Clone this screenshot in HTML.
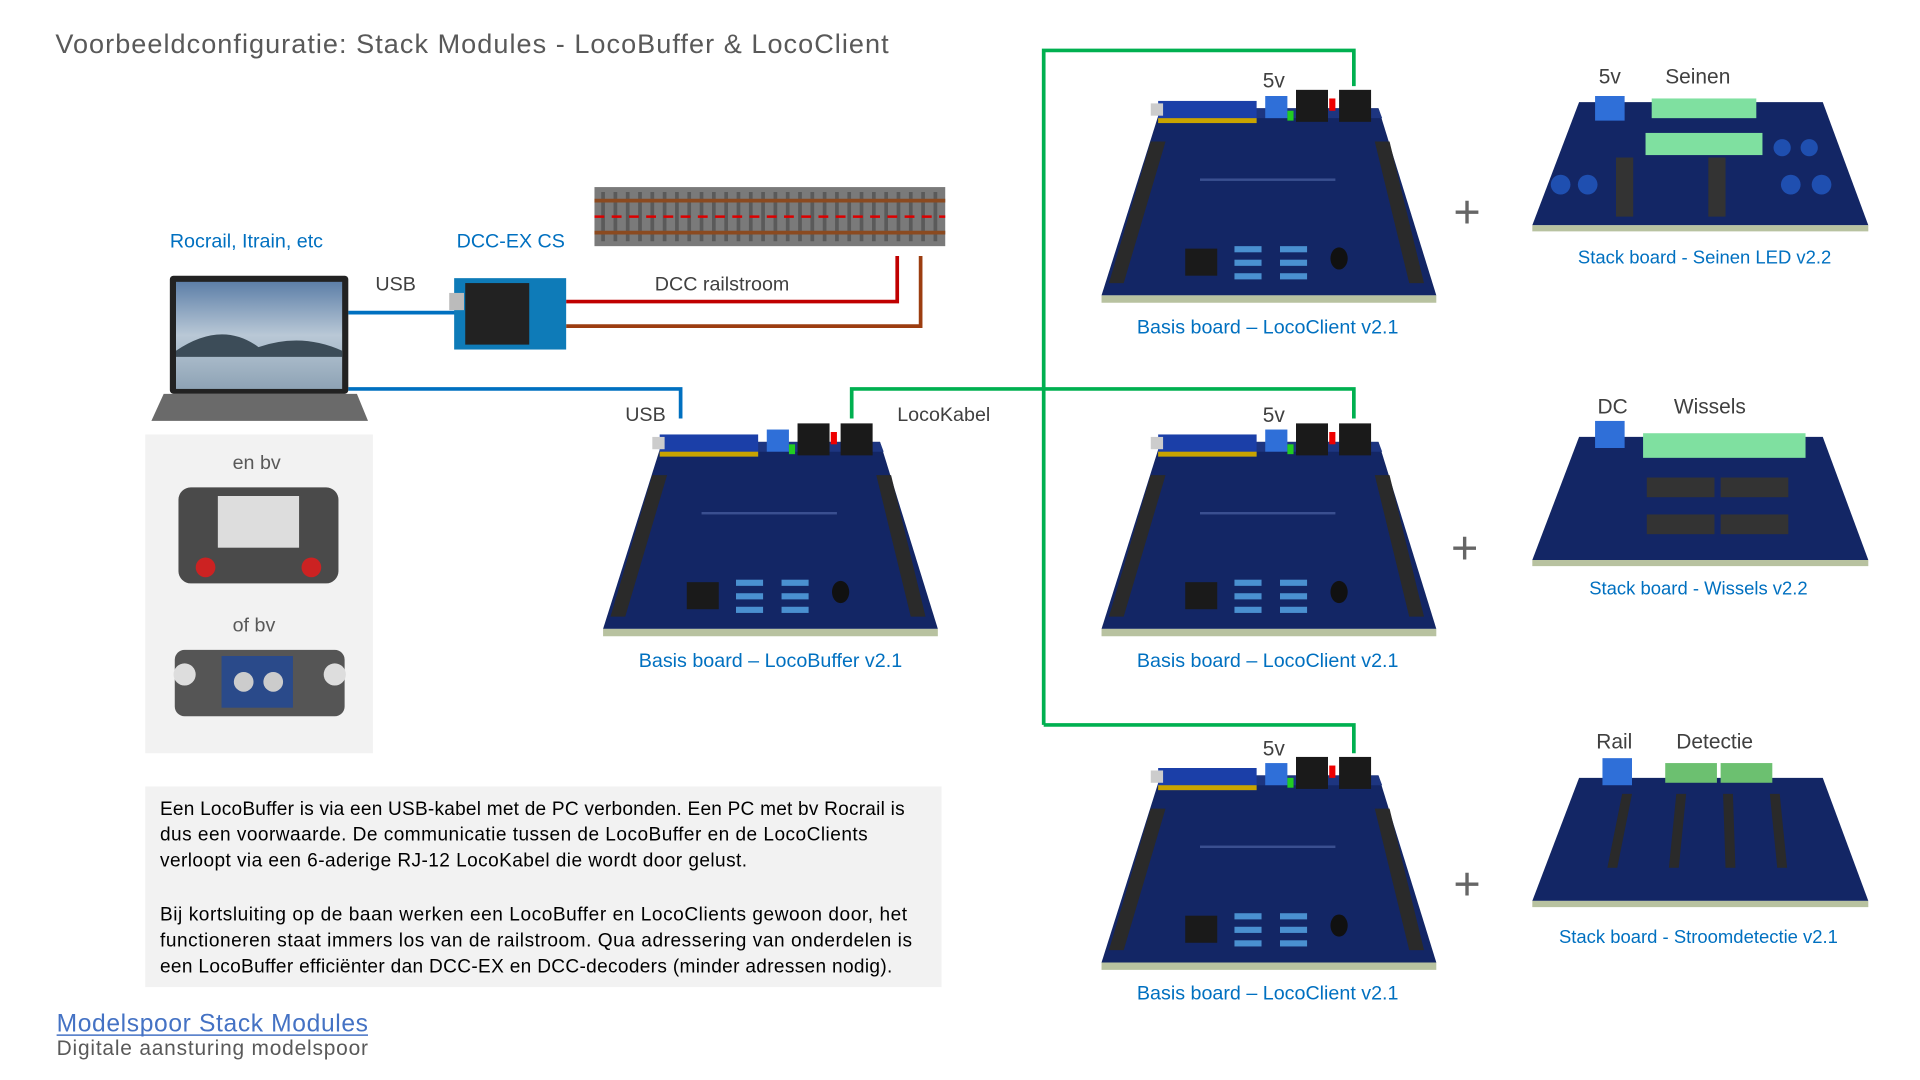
<!DOCTYPE html>
<html><head><meta charset="utf-8"><style>
html,body{margin:0;padding:0;background:#fff;width:1920px;height:1080px;overflow:hidden}
svg{display:block}
text{font-family:"Liberation Sans",sans-serif}
</style></head><body>
<svg width="1920" height="1080" viewBox="0 0 1560 877.5" xmlns="http://www.w3.org/2000/svg">
<defs>
<g id="pcb">
  <polygon points="48,18 225,18 272,170 0,170" fill="#132665"/>
  <polygon points="0,170 272,170 272,176 0,176" fill="#b8c2a0"/>
  <polygon points="48,18 225,18 228,26 46,26" fill="#1d3580"/>
  <polygon points="40,45 52,45 18,160 6,160" fill="#2a2a2a"/>
  <polygon points="222,45 234,45 262,160 250,160" fill="#2a2a2a"/>
  <rect x="46" y="12" width="80" height="18" fill="#1b3fa8"/>
  <rect x="46" y="26" width="80" height="4" fill="#c9a400"/>
  <rect x="40" y="14" width="10" height="10" fill="#ccc"/>
  <rect x="133" y="8" width="18" height="18" fill="#2f6fd8"/>
  <rect x="158" y="3" width="26" height="26" fill="#1a1a1a"/>
  <rect x="193" y="3" width="26" height="26" fill="#1a1a1a"/>
  <rect x="185" y="10" width="5" height="10" fill="#e00"/>
  <rect x="151" y="20" width="5" height="8" fill="#2c2"/>
  <rect x="68" y="132" width="26" height="22" fill="#1a1a1a"/>
  <g fill="#4a90d0">
    <rect x="108" y="130" width="22" height="5"/><rect x="108" y="141" width="22" height="5"/><rect x="108" y="152" width="22" height="5"/>
    <rect x="145" y="130" width="22" height="5"/><rect x="145" y="141" width="22" height="5"/><rect x="145" y="152" width="22" height="5"/>
  </g>
  <ellipse cx="193" cy="140" rx="7" ry="9" fill="#111"/>
  <rect x="80" y="75" width="110" height="2" fill="#3a4f90"/>
</g>
<g id="stk">
  <polygon points="38,10 236,10 273,110 0,110" fill="#132665"/>
  <polygon points="0,110 273,110 273,115 0,115" fill="#b8c2a0"/>
</g>
</defs>

<text x="45" y="43" font-size="22" fill="#595959" textLength="677">Voorbeeldconfiguratie: Stack Modules - LocoBuffer &amp; LocoClient</text>

<g stroke="#00b050" stroke-width="3" fill="none">
  <polyline points="692,340 692,316 1100,316 1100,340"/>
  <polyline points="848,589 848,41 1100,41 1100,70"/>
  <polyline points="848,589 1100,589 1100,612"/>
</g>
<g stroke="#0070c0" stroke-width="3" fill="none">
  <line x1="283" y1="254" x2="370" y2="254"/>
  <polyline points="283,316 553,316 553,340"/>
</g>
<polyline points="460,245 729,245 729,208" stroke="#c00000" stroke-width="3" fill="none"/>
<polyline points="460,265 748,265 748,208" stroke="#9c3d10" stroke-width="3" fill="none"/>

<rect x="483" y="152" width="285" height="48" fill="#7a7a7a"/>
<g stroke="#5a5a5a" stroke-width="3">
  <path d="M490 156V196M500 156V196M510 156V196M520 156V196M530 156V196M540 156V196M550 156V196M560 156V196M570 156V196M580 156V196M590 156V196M600 156V196M610 156V196M620 156V196M630 156V196M640 156V196M650 156V196M660 156V196M670 156V196M680 156V196M690 156V196M700 156V196M710 156V196M720 156V196M730 156V196M740 156V196M750 156V196M760 156V196"/>
</g>
<line x1="483" y1="163" x2="768" y2="163" stroke="#8b4a20" stroke-width="3"/>
<line x1="483" y1="189" x2="768" y2="189" stroke="#8b4a20" stroke-width="3"/>
<line x1="483" y1="176" x2="768" y2="176" stroke="#d00" stroke-width="2" stroke-dasharray="8,6"/>

<text x="138" y="201" font-size="16" fill="#0070c0">Rocrail, Itrain, etc</text>
<text x="371" y="201" font-size="16" fill="#0070c0">DCC-EX CS</text>
<text x="305" y="236" font-size="16" fill="#404040">USB</text>
<text x="532" y="236" font-size="16" fill="#404040">DCC railstroom</text>
<text x="508" y="342" font-size="16" fill="#404040">USB</text>
<text x="729" y="342" font-size="16" fill="#404040">LocoKabel</text>

<rect x="138" y="224" width="145" height="96" rx="3" fill="#222"/>
<defs><linearGradient id="sky" x1="0" y1="0" x2="0" y2="1"><stop offset="0" stop-color="#5d7fa8"/><stop offset="0.5" stop-color="#b9c8d6"/><stop offset="1" stop-color="#8ea3b5"/></linearGradient></defs>
<rect x="143" y="229" width="135" height="87" fill="url(#sky)"/>
<path d="M143 285 Q180 260 210 282 Q245 270 278 285 L278 290 L143 290Z" fill="#3c4c58"/>
<polygon points="133,320 290,320 299,342 123,342" fill="#6a6a6a"/>

<rect x="369" y="226" width="91" height="58" fill="#0e7bb8"/>
<rect x="378" y="230" width="52" height="50" fill="#222"/>
<rect x="365" y="238" width="12" height="14" fill="#bbb"/>

<rect x="118" y="353" width="185" height="259" fill="#f2f2f2"/>
<text x="189" y="381" font-size="16" fill="#595959">en bv</text>
<rect x="145" y="396" width="130" height="78" rx="10" fill="#4a4a4a"/>
<rect x="177" y="403" width="66" height="42" fill="#ddd"/>
<circle cx="167" cy="461" r="8" fill="#c22"/><circle cx="253" cy="461" r="8" fill="#c22"/>
<text x="189" y="513" font-size="16" fill="#595959">of bv</text>
<rect x="142" y="528" width="138" height="54" rx="8" fill="#555"/>
<rect x="180" y="533" width="58" height="42" fill="#2a4a8a"/>
<circle cx="198" cy="554" r="8" fill="#ccc"/><circle cx="222" cy="554" r="8" fill="#ccc"/>
<circle cx="150" cy="548" r="9" fill="#ddd"/><circle cx="272" cy="548" r="9" fill="#ddd"/>

<rect x="118" y="639" width="647" height="163" fill="#f2f2f2"/>
<g font-size="15.5" fill="#000">
<text x="130" y="662" textLength="605">Een LocoBuffer is via een USB-kabel met de PC verbonden. Een PC met bv Rocrail is</text>
<text x="130" y="683" textLength="575">dus een voorwaarde. De communicatie tussen de LocoBuffer en de LocoClients</text>
<text x="130" y="704" textLength="477">verloopt via een 6-aderige RJ-12 LocoKabel die wordt door gelust.</text>
<text x="130" y="748" textLength="607">Bij kortsluiting op de baan werken een LocoBuffer en LocoClients gewoon door, het</text>
<text x="130" y="769" textLength="611">functioneren staat immers los van de railstroom. Qua adressering van onderdelen is</text>
<text x="130" y="790" textLength="595">een LocoBuffer efficiënter dan DCC-EX en DCC-decoders (minder adressen nodig).</text>
</g>

<text x="46" y="838" font-size="20" fill="#4472c4" textLength="253">Modelspoor Stack Modules</text>
<line x1="46" y1="841" x2="299" y2="841" stroke="#4472c4" stroke-width="1.2"/>
<text x="46" y="857" font-size="17" fill="#595959" textLength="253">Digitale aansturing modelspoor</text>

<use href="#pcb" x="895" y="70"/>
<use href="#pcb" x="490" y="341"/>
<use href="#pcb" x="895" y="341"/>
<use href="#pcb" x="895" y="612"/>
<g font-size="16" fill="#0070c0" text-anchor="middle">
<text x="1030" y="271">Basis board – LocoClient v2.1</text>
<text x="626" y="542">Basis board – LocoBuffer v2.1</text>
<text x="1030" y="542">Basis board – LocoClient v2.1</text>
<text x="1030" y="812">Basis board – LocoClient v2.1</text>
<text x="1385" y="214" font-size="15">Stack board - Seinen LED v2.2</text>
<text x="1380" y="483" font-size="15">Stack board - Wissels v2.2</text>
<text x="1380" y="766" font-size="15">Stack board - Stroomdetectie v2.1</text>
</g>
<g font-size="17" fill="#404040">
<text x="1026" y="71">5v</text><text x="1026" y="343">5v</text><text x="1026" y="614">5v</text>
<text x="1299" y="68">5v</text><text x="1353" y="68">Seinen</text>
<text x="1298" y="336">DC</text><text x="1360" y="336">Wissels</text>
<text x="1297" y="608">Rail</text><text x="1362" y="608">Detectie</text>
</g>
<g font-size="38" fill="#666" text-anchor="middle">
<text x="1192" y="185">+</text><text x="1190" y="458">+</text><text x="1192" y="731">+</text>
</g>

<use href="#stk" x="1245" y="73"/>
<rect x="1296" y="78" width="24" height="20" fill="#2f6fd8"/>
<rect x="1342" y="80" width="85" height="16" fill="#7fe0a0"/>
<rect x="1337" y="108" width="95" height="18" fill="#7fe0a0"/>
<g fill="#1f4fb0"><circle cx="1268" cy="150" r="8"/><circle cx="1290" cy="150" r="8"/><circle cx="1455" cy="150" r="8"/><circle cx="1480" cy="150" r="8"/><circle cx="1448" cy="120" r="7"/><circle cx="1470" cy="120" r="7"/></g>
<rect x="1313" y="128" width="14" height="48" fill="#333"/><rect x="1388" y="128" width="14" height="48" fill="#333"/>

<use href="#stk" x="1245" y="345"/>
<rect x="1296" y="342" width="24" height="22" fill="#2f6fd8"/>
<rect x="1335" y="352" width="132" height="20" fill="#7fe0a0"/>
<g fill="#333"><rect x="1338" y="388" width="55" height="16"/><rect x="1398" y="388" width="55" height="16"/><rect x="1338" y="418" width="55" height="16"/><rect x="1398" y="418" width="55" height="16"/></g>

<use href="#stk" x="1245" y="622"/>
<rect x="1302" y="616" width="24" height="22" fill="#2f6fd8"/>
<rect x="1353" y="620" width="42" height="16" fill="#6cc070"/><rect x="1398" y="620" width="42" height="16" fill="#6cc070"/>
<g fill="#2a2a2a"><polygon points="1318,645 1326,645 1314,705 1306,705"/><polygon points="1362,645 1370,645 1364,705 1356,705"/><polygon points="1400,645 1408,645 1410,705 1402,705"/><polygon points="1438,645 1446,645 1452,705 1444,705"/></g>
</svg>
</body></html>
